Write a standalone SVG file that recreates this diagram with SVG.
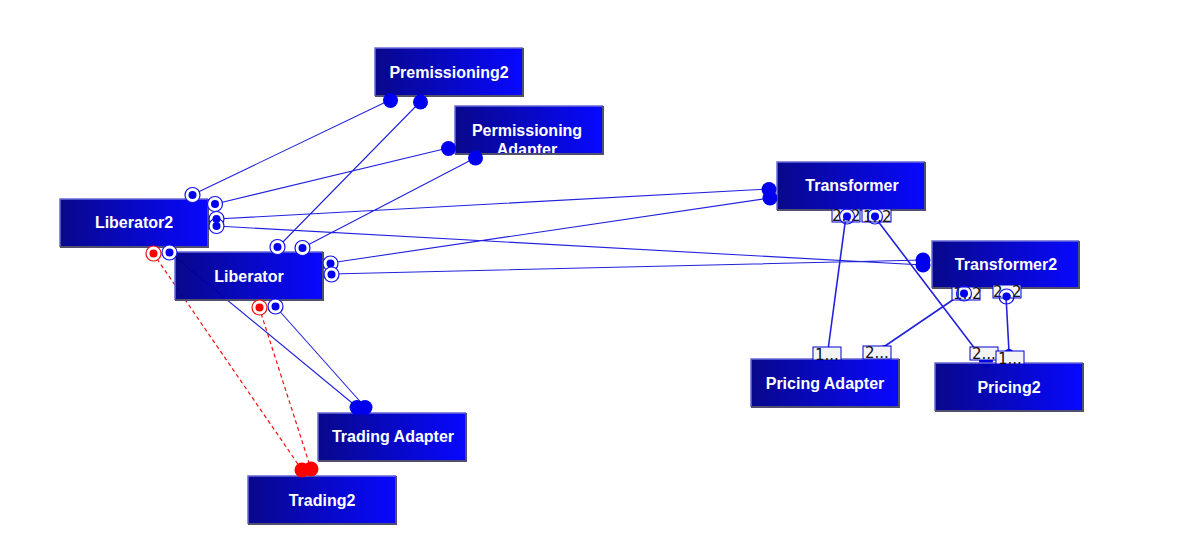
<svg xmlns="http://www.w3.org/2000/svg" width="1197" height="545" viewBox="0 0 1197 545">
<style>
.box{fill:url(#g);fill-opacity:.97;stroke:none}
.tl{fill:none;stroke:#6a6ad8;stroke-width:1.5}
.br{fill:none;stroke:#50506e;stroke-width:2}
.t{font:bold 16px "Liberation Sans",Arial,sans-serif;fill:#fff;text-anchor:middle}
.c{stroke:#2222dd;stroke-width:1.1;fill:none}
.c2{stroke:#2222dd;stroke-width:1.6;fill:none}
.r{stroke:#ee1111;stroke-width:1.2;stroke-dasharray:4 3;fill:none}
.ring{fill:#fff;stroke:#1111ee;stroke-width:1.2}
.ringr{fill:#fff;stroke:#ee1111;stroke-width:1.2}
.hollow{fill:none;stroke:#1111ee;stroke-width:1.2}
.d{fill:#0000ee}
.dr{fill:#ff0000}
.lb{fill:#f4f4f4;stroke:#0000cc;stroke-width:1}
.lt{font:15px "DejaVu Sans",Verdana,sans-serif;fill:#111}
</style>
<defs>
<linearGradient id="g" x1="0" y1="0.5" x2="1" y2="0.5"><stop offset="0" stop-color="#000088"/><stop offset="1" stop-color="#0000ff"/></linearGradient>
<clipPath id="pa"><rect x="455" y="106" width="148" height="47"/></clipPath>
</defs>
<g id="connectors">
<path class="c" d="M192 195L390 100M215 204L448 148M216 219L769 189M216 226L923 265M278 247L420 102M302 248L475 158M330 263L770 198M331 274L923 260M169 252L357 407M275 306L365 407"/>
<path class="c2" d="M846 216L828 350M874 216L985 362M963 293L885 346M1006 296L1009 352"/>
<path class="r" d="M153 253L302 470M259 307L311 469"/>
</g>
<g id="end-small">
<circle class="d" cx="828" cy="351" r="4"/><circle class="d" cx="885" cy="349" r="4"/><circle class="d" cx="986" cy="361" r="7"/><circle class="d" cx="1009" cy="354" r="5"/>
</g>
<g id="premissioning2"><rect class="box" x="375" y="48" width="148" height="48"/><path class="tl" d="M375 96V48H523"/><path class="br" d="M523 48V96H375"/><text class="t" x="449" y="78">Premissioning2</text></g>
<g id="permissioning-adapter"><rect class="box" x="455" y="106" width="148" height="48"/><path class="tl" d="M455 154V106H603"/><path class="br" d="M603 106V154H455"/><g clip-path="url(#pa)"><text class="t" x="527" y="136">Permissioning</text><text class="t" x="527" y="155">Adapter</text></g></g>
<g id="transformer"><rect class="box" x="777" y="162" width="148" height="48"/><path class="tl" d="M777 210V162H925"/><path class="br" d="M925 162V210H777"/><text class="t" x="852" y="191">Transformer</text></g>
<g id="transformer2"><rect class="box" x="932" y="241" width="147" height="47"/><path class="tl" d="M932 288V241H1079"/><path class="br" d="M1079 241V288H932"/><text class="t" x="1006" y="270">Transformer2</text></g>
<g id="liberator2"><rect class="box" x="60" y="199" width="148" height="48"/><path class="tl" d="M60 247V199H208"/><path class="br" d="M208 199V247H60"/><text class="t" x="134" y="228">Liberator2</text></g>
<g id="liberator"><rect class="box" x="175" y="252" width="148" height="48"/><path class="tl" d="M175 300V252H323"/><path class="br" d="M323 252V300H175"/><text class="t" x="249" y="282">Liberator</text></g>
<g id="pricing-adapter"><rect class="box" x="751" y="359" width="148" height="48"/><path class="tl" d="M751 407V359H899"/><path class="br" d="M899 359V407H751"/><text class="t" x="825" y="389">Pricing Adapter</text></g>
<g id="pricing2"><rect class="box" x="935" y="363" width="148" height="48"/><path class="tl" d="M935 411V363H1083"/><path class="br" d="M1083 363V411H935"/><text class="t" x="1009" y="393">Pricing2</text></g>
<g id="trading-adapter"><rect class="box" x="318" y="413" width="148" height="48"/><path class="tl" d="M318 461V413H466"/><path class="br" d="M466 413V461H318"/><text class="t" x="393" y="442">Trading Adapter</text></g>
<g id="trading2"><rect class="box" x="248" y="476" width="148" height="48"/><path class="tl" d="M248 524V476H396"/><path class="br" d="M396 476V524H248"/><text class="t" x="322" y="506">Trading2</text></g>
<g id="ends">
<circle class="d" cx="390.500" cy="100.500" r="7.500"/><circle class="d" cx="420.500" cy="102" r="7.500"/>
<circle class="d" cx="448.500" cy="148.500" r="7.500"/><circle class="d" cx="475.500" cy="158" r="7.500"/>
<circle class="d" cx="769" cy="189.500" r="7.500"/><circle class="d" cx="770" cy="198" r="7.500"/>
<circle class="d" cx="923" cy="260" r="7.500"/><circle class="d" cx="923" cy="265" r="7.500"/>
<circle class="d" cx="357" cy="407.500" r="7.500"/><circle class="d" cx="365" cy="407.500" r="7.500"/>
<circle class="dr" cx="302" cy="470" r="7.500"/><circle class="dr" cx="311" cy="469" r="7.500"/>
</g>
<g id="labels">
<rect class="lb" x="832" y="209" width="28" height="13"/><text class="lt" x="832" y="221">2..2</text>
<rect class="lb" x="862" y="209" width="29" height="13"/><text class="lt" x="863" y="222">1..2</text>
<rect class="lb" x="952" y="287" width="28" height="13"/><text class="lt" x="953" y="299">1..2</text>
<rect class="lb" x="993" y="285" width="28" height="13"/><text class="lt" x="993" y="297">2..2</text>
<rect class="lb" x="813" y="347" width="28" height="13"/><text class="lt" x="815" y="360">1...</text>
<rect class="lb" x="863" y="346" width="28" height="13"/><text class="lt" x="865" y="358">2...</text>
<rect class="lb" x="970" y="347" width="28" height="13"/><text class="lt" x="972" y="359">2...</text>
<rect class="lb" x="996" y="351" width="28" height="13"/><text class="lt" x="998" y="364">1...</text>
</g>
<g id="start-rings">
<circle class="ring" cx="192.500" cy="195" r="7.500"/><circle class="d" cx="192.500" cy="195" r="4"/>
<circle class="ring" cx="215" cy="204" r="7.500"/><circle class="d" cx="215" cy="204" r="4"/>
<circle class="ring" cx="216.500" cy="219" r="7.500"/><circle class="ring" cx="216.500" cy="226" r="7.500"/><circle class="d" cx="216.500" cy="219" r="4"/><circle class="d" cx="216.500" cy="226" r="4"/>
<circle class="ring" cx="277.500" cy="247" r="7.500"/><circle class="d" cx="277.500" cy="247" r="4"/>
<circle class="ring" cx="302.500" cy="248" r="7.500"/><circle class="d" cx="302.500" cy="248" r="4"/>
<circle class="ring" cx="330.500" cy="263.500" r="7.500"/><circle class="d" cx="330.500" cy="263.500" r="4"/>
<circle class="ring" cx="331.500" cy="274.500" r="7.500"/><circle class="d" cx="331.500" cy="274.500" r="4"/>
<circle class="ring" cx="275.500" cy="306.500" r="7.500"/><circle class="d" cx="275.500" cy="306.500" r="4"/>
<circle class="ringr" cx="259.500" cy="307.500" r="7.500"/><circle class="dr" cx="259.500" cy="307.500" r="4"/>
<circle class="ringr" cx="153.500" cy="253.500" r="7.500"/><circle class="dr" cx="153.500" cy="253.500" r="4"/>
<circle class="ring" cx="169.500" cy="252.500" r="7.500"/><circle class="d" cx="169.500" cy="252.500" r="4"/>
<circle class="hollow" cx="847" cy="216.500" r="7.500"/><circle class="d" cx="847" cy="216.500" r="4"/>
<circle class="hollow" cx="875" cy="216.500" r="7.500"/><circle class="d" cx="875" cy="216.500" r="4"/>
<circle class="hollow" cx="964" cy="293.500" r="7.500"/><circle class="d" cx="964" cy="293.500" r="4"/>
<circle class="hollow" cx="1006.500" cy="296.500" r="7.500"/><circle class="d" cx="1006.500" cy="296.500" r="4"/>
</g>
</svg>
